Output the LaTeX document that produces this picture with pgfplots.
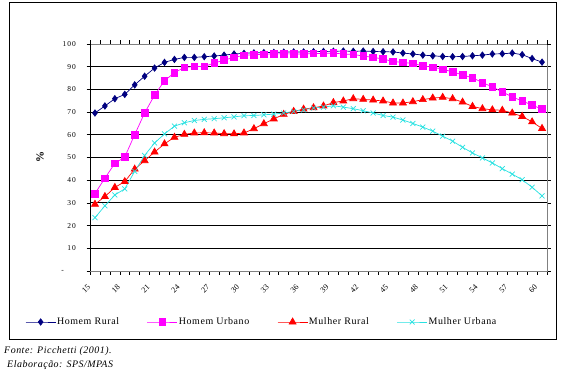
\documentclass[border=0pt]{standalone}
\usepackage{pgfplots}
\pgfplotsset{compat=1.18}
\usepackage{fontspec}
\setmainfont{Liberation Serif}
\newfontfamily\tickfont[LetterSpace=14]{Liberation Serif}
\newfontfamily\legfont[LetterSpace=6]{Liberation Serif}
\newfontfamily\notefont[LetterSpace=5]{Liberation Serif}
\definecolor{hrural}{RGB}{0,0,128}
\definecolor{hurb}{RGB}{255,0,255}
\definecolor{mrural}{RGB}{255,0,0}
\definecolor{murb}{RGB}{40,225,225}

\pgfplotstableread{
age hr hu mr mu
15 69.6 34.1 29.4 23.5
16 72.7 40.9 32.8 28.7
17 75.9 47.4 36.8 33.5
18 77.8 50.2 39.4 36.2
19 82.0 60.1 44.9 43.9
20 85.8 69.6 48.6 50.9
21 89.4 77.5 52.4 56.4
22 91.9 83.8 56.0 60.4
23 93.2 87.4 58.9 63.8
24 94.1 89.7 60.2 65.3
25 94.1 90.1 60.8 66.3
26 94.4 90.1 60.9 66.8
27 94.7 91.6 60.8 67.1
28 95.1 92.9 60.5 67.5
29 95.6 94.1 60.4 67.9
30 95.9 95.0 60.8 68.4
31 96.1 95.3 62.7 68.5
32 96.2 95.5 64.9 68.8
33 96.3 95.6 67.0 69.1
34 96.4 95.7 69.0 69.6
35 96.5 95.6 70.3 70.3
36 96.5 95.6 71.3 71.0
37 96.6 95.8 71.9 71.8
38 96.7 95.8 72.7 72.2
39 96.8 96.0 74.2 72.8
40 96.9 95.6 74.9 72.2
41 96.8 95.4 75.9 71.5
42 96.9 94.7 75.6 70.6
43 96.7 94.1 75.3 69.6
44 96.6 93.4 74.9 68.5
45 96.5 92.3 74.0 67.8
46 96.0 91.9 74.0 66.5
47 95.6 91.4 74.6 65.0
48 95.1 90.4 75.5 63.4
49 94.8 89.8 76.2 61.6
50 94.5 88.9 76.5 59.4
51 94.4 87.7 75.9 57.2
52 94.5 86.4 74.4 54.5
53 94.8 85.1 72.5 52.0
54 95.1 83.0 71.5 49.8
55 95.6 81.1 71.0 47.6
56 95.7 78.9 70.8 45.1
57 96.0 76.7 69.6 42.7
58 95.3 74.9 68.1 40.2
59 93.6 73.1 65.7 36.9
60 92.0 71.3 62.8 33.1
}\datatable

\begin{document}
\begin{tikzpicture}
\useasboundingbox (0,0) rectangle (566bp,374bp);
\draw[line width=0.9bp] (9bp,35bp) rectangle (556bp,372bp);
\begin{axis}[
  at={(90bp,103bp)}, anchor=south west,
  scale only axis, width=457bp, height=227bp,
  xmin=14.5, xmax=60.5, ymin=0, ymax=100,
  xtick={15,18,...,60},
  xticklabels={15,18,21,24,27,30,33,36,39,42,45,48,51,54,57,60},
  minor xtick={14.5,15.5,...,60.5},
  every major x tick/.append style={draw=none},
  xticklabel style={font=\fontsize{8}{9}\selectfont, xshift=-6bp, yshift=-11bp, rotate=45, anchor=east, inner sep=0bp},
  ytick={0,10,...,90},
  yticklabels={{-\hspace*{12bp}},10,20,30,40,50,60,70,80,90},
  extra y ticks={100}, extra y tick labels={100},
  extra y tick style={ymajorgrids=false},
  yticklabel style={font=\tickfont\fontsize{7.5}{8}\selectfont, xshift=-7bp},
  /pgf/number format/assume math mode=true,
  ymajorgrids, major grid style={black, line width=0.8bp},
  axis line style={draw=gray, line width=0.8bp},
  tick align=outside, major tick length=3.5bp, minor tick length=3.5bp,
  tick style={black, line width=0.6bp},
  legend columns=4,
  legend image code/.code={\draw[mark repeat=2,mark phase=2] plot coordinates {(0bp,0bp) (15bp,0bp) (30bp,0bp)};},
  legend style={draw=none, fill=none, at={(-0.142,-0.2247)}, anchor=west,
    font=\legfont\fontsize{10}{11}\selectfont, inner sep=0pt,
    /tikz/every even column/.append style={column sep=27bp},
    nodes={inner sep=1bp}},
]
\addplot[hrural, line width=0.7bp, mark=diamond*, mark size=3.2bp, mark options={solid}] table[x=age,y=hr] {\datatable};
\addlegendentry{Homem Rural}
\addplot[hurb, line width=0.7bp, mark=square*, mark size=3.3bp] table[x=age,y=hu] {\datatable};
\addlegendentry{Homem Urbano}
\addplot[mrural, line width=0.7bp, mark=triangle*, mark size=4bp] table[x=age,y=mr] {\datatable};
\addlegendentry{Mulher Rural}
\addplot[murb, line width=0.7bp, mark=x, mark size=3.5bp] table[x=age,y=mu] {\datatable};
\addlegendentry{Mulher Urbana}
\draw[black, line width=0.9bp] (rel axis cs:0,1) -- (rel axis cs:0,0) -- (rel axis cs:1,0);
\end{axis}
\node[rotate=90, font=\bfseries\fontsize{11}{12}\selectfont] at (40bp,217bp) {\%};
\node[anchor=west, inner sep=0pt, font=\notefont\itshape\fontsize{10}{11}\selectfont] at (4bp,23bp) {Fonte: Picchetti (2001).};
\node[anchor=west, inner sep=0pt, font=\notefont\itshape\fontsize{10}{11}\selectfont] at (7bp,9bp) {Elaboração: SPS/MPAS};
\end{tikzpicture}
\end{document}
